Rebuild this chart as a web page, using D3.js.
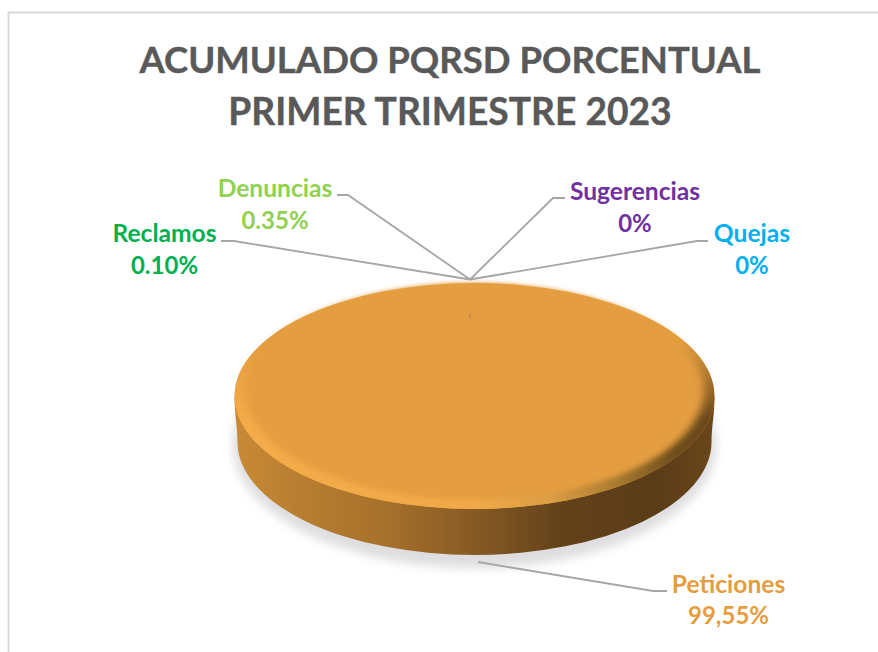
<!DOCTYPE html>
<html><head><meta charset="utf-8">
<script src="https://cdn.jsdelivr.net/npm/d3@7"></script>
<style>html,body{margin:0;padding:0;background:#fff}svg{display:block}text{font-family:Lato,"Open Sans",sans-serif;font-weight:700}</style>
</head><body><svg id="c" width="878" height="652"></svg>
<script>
const titleLines = ["ACUMULADO PQRSD PORCENTUAL","PRIMER TRIMESTRE 2023"];
const categories = ["Peticiones","Quejas","Sugerencias","Denuncias","Reclamos"];
const values = [99.55,0,0,0.35,0.10];
const valueLabels = ["99,55%","0%","0%","0.35%","0.10%"];
const colors = ["#E49D3F","#00B0F0","#7030A0","#92D050","#00B050"];

const svg = d3.select("#c");
const defs = svg.append("defs");
const cx=474.5, cy=396, rx=240, ry=113, depth=46, bevelX=11, bevelY=10;

svg.append("path").attr("d","M8.5,652V12.5H878").attr("fill","none").attr("stroke","#d9d9d9").attr("stroke-width",2);

titleLines.forEach((t,i)=>svg.append("text").attr("x",450).attr("y",[73,125][i]).attr("text-anchor","middle")
  .attr("font-size",[36.5,37.2][i]).attr("fill","#595959").attr("stroke","#595959").attr("stroke-width",.4).text(t));

const shF=defs.append("filter").attr("id","sh").attr("x","-10%").attr("y","-20%").attr("width","120%").attr("height","140%");
shF.append("feGaussianBlur").attr("stdDeviation",5);
const softF=defs.append("filter").attr("id","soft").attr("x","-5%").attr("y","-5%").attr("width","110%").attr("height","110%");
softF.append("feGaussianBlur").attr("stdDeviation",4);
const sideG=defs.append("linearGradient").attr("id","side").attr("x1",0).attr("x2",1).attr("y1",0).attr("y2",0);
[[0,"#c98a35"],[0.12,"#b97f31"],[0.3,"#a8722c"],[0.5,"#875a24"],[0.68,"#63421a"],[0.88,"#5a3c18"],[1,"#6a4719"]]
 .forEach(s=>sideG.append("stop").attr("offset",s[0]).attr("stop-color",s[1]));
const rimG=defs.append("linearGradient").attr("id","rim").attr("x1",0).attr("x2",1).attr("y1",0).attr("y2",0);
[[0,"#f4ac4a"],[0.5,"#f0a948"],[0.66,"#dc9d44"],[0.8,"#a87a30"],[0.92,"#6f4c1c"],[1,"#68471a"]]
 .forEach(s=>rimG.append("stop").attr("offset",s[0]).attr("stop-color",s[1]));
const fadeG=defs.append("linearGradient").attr("id","fade").attr("x1",0).attr("x2",0).attr("y1",0).attr("y2",1);
[[0,"#000"],[0.25,"#000"],[0.6,"#fff"],[1,"#fff"]].forEach(s=>fadeG.append("stop").attr("offset",s[0]).attr("stop-color",s[1]));
defs.append("mask").attr("id","rimMask").attr("maskContentUnits","objectBoundingBox")
  .append("rect").attr("width",1).attr("height",1).attr("fill","url(#fade)");

svg.append("ellipse").attr("cx",cx).attr("cy",cy+depth+3).attr("rx",rx+2).attr("ry",ry+10)
  .attr("fill","#c8c8cc").attr("opacity",.6).attr("filter","url(#sh)");

const L=cx-rx,R=cx+rx,bx=rx-3;
svg.append("path").attr("d",`M${L},${cy}C${L},${cy+20} ${cx-bx},${cy+30} ${cx-bx},${cy+depth}A${bx},${ry} 0 0 0 ${cx+bx},${cy+depth}C${cx+bx},${cy+30} ${R},${cy+20} ${R},${cy}Z`).attr("fill","url(#side)");

svg.append("ellipse").attr("cx",cx).attr("cy",cy).attr("rx",rx).attr("ry",ry).attr("fill",colors[0]);
svg.append("ellipse").attr("cx",cx).attr("cy",cy).attr("rx",rx).attr("ry",ry).attr("fill","url(#rim)").attr("mask","url(#rimMask)");

const pie=d3.pie().sort(null).value(d=>d);
const arcs=pie(values);
const arc=d3.arc().innerRadius(0).outerRadius(rx-bevelX);
const face=svg.append("g").attr("transform",`translate(${cx},${cy-bevelY/2}) scale(1,${(ry-bevelY/2)/(rx-bevelX)})`).attr("filter","url(#soft)");
face.selectAll("path").data(arcs).join("path").attr("d",arc).attr("fill",colors[0]).attr("stroke",colors[0]);
svg.append("ellipse").attr("cx",470).attr("cy",316).attr("rx",.7).attr("ry",2).attr("fill","#b08040");

const apex=[470,279.5], tail=[478,562];
const leaders=[
 [[667,591],[653,591],tail],
 [[708,241],[697,241],apex],
 [[565,198],[553,198],apex],
 [[337,195],[348,195],apex],
 [[221,241],[234,241],apex]];
const lineGen=d3.line();
svg.selectAll(".ld").data(leaders).join("path").attr("class","ld").attr("d",lineGen).attr("fill","none").attr("stroke","#a6a6a6").attr("stroke-width",1.8);

const labelPos=[[728.5,593,624],[752,242,274],[635,200,232],[275,197,229],[164.5,242,274]];
categories.forEach((c,i)=>{
  const p=labelPos[i];
  svg.append("text").attr("x",p[0]).attr("y",p[1]).attr("text-anchor","middle").attr("font-size",24.6).attr("fill",colors[i]).text(c);
  svg.append("text").attr("x",p[0]).attr("y",p[2]).attr("text-anchor","middle").attr("font-size",24).attr("fill",colors[i]).text(valueLabels[i]);
});
</script></body></html>
